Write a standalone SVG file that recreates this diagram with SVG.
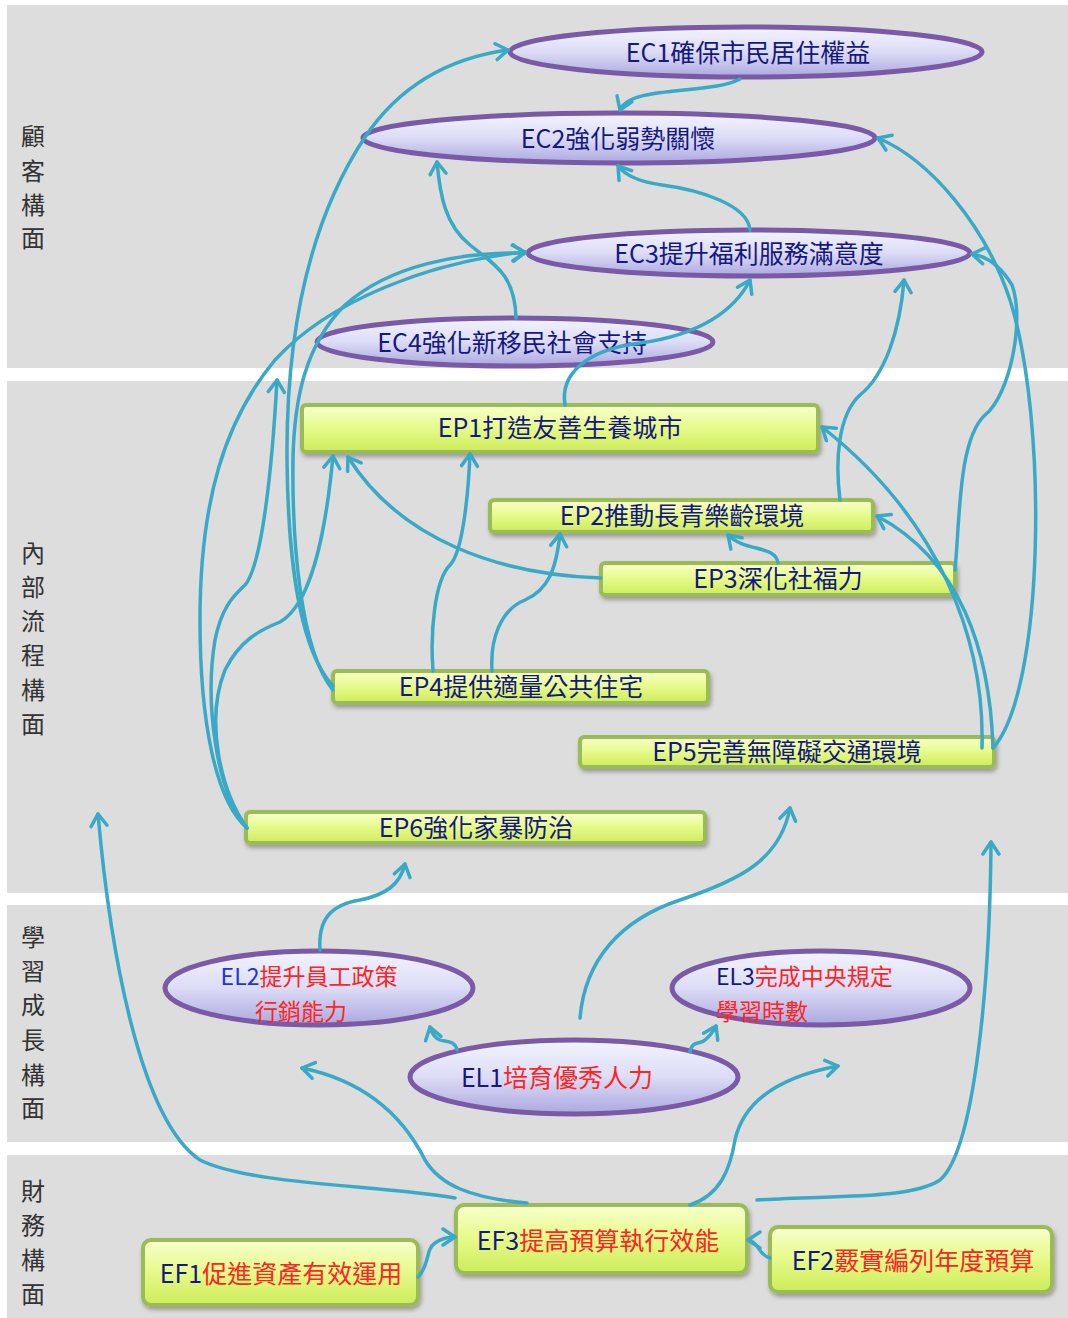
<svg xmlns="http://www.w3.org/2000/svg" width="1068" height="1318" viewBox="0 0 1068 1318">
<style>
.band{fill:#dddddd}
.lbl{font-family:"Noto Sans CJK TC","Noto Sans CJK SC",sans-serif;font-size:24px;fill:#333;text-anchor:middle}
.ell{fill:url(#gE);stroke:#7a5aa6;stroke-width:5}
.box{fill:url(#gR);stroke:#9bbb59;stroke-width:4;filter:url(#sh)}
.t{font-family:"Noto Sans CJK TC","Noto Sans CJK SC",sans-serif;font-size:25px;fill:#16187f;text-anchor:middle}
.t2{font-size:23px}
.r{fill:#ff2424}
.b{fill:#1f33dd}
.c{fill:none;stroke:#3aa9c6;stroke-width:3.5;stroke-linecap:round;marker-end:url(#ar)}
</style>
<defs>
<linearGradient id="gE" x1="0" y1="0" x2="0" y2="1">
<stop offset="0" stop-color="#f3f4fe"/><stop offset="0.5" stop-color="#dcdcf6"/><stop offset="1" stop-color="#aba8df"/>
</linearGradient>
<linearGradient id="gR" x1="0" y1="0" x2="0" y2="1">
<stop offset="0" stop-color="#f7ffcf"/><stop offset="0.45" stop-color="#e8fb8e"/><stop offset="1" stop-color="#cdec58"/>
</linearGradient>
<filter id="sh" x="-5%" y="-20%" width="110%" height="150%">
<feDropShadow dx="1.5" dy="3" stdDeviation="2" flood-color="#000" flood-opacity="0.3"/>
</filter>
<marker id="ar" markerUnits="userSpaceOnUse" markerWidth="24" markerHeight="24" refX="15" refY="10" orient="auto">
<path d="M3,2 L15,10 L3,18" fill="none" stroke="#3aa9c6" stroke-width="3.5" stroke-linecap="round" stroke-linejoin="round"/>
</marker>
</defs>
<rect width="1068" height="1318" fill="#fff"/>
<g id="bands">
<rect class="band" x="7" y="5" width="1061" height="363"/>
<rect class="band" x="7" y="381" width="1061" height="512"/>
<rect class="band" x="7" y="905" width="1061" height="237"/>
<rect class="band" x="7" y="1155" width="1061" height="163"/>
<text class="lbl"><tspan x="33" y="145">顧</tspan><tspan x="33" y="180">客</tspan><tspan x="33" y="214">構</tspan><tspan x="33" y="247">面</tspan></text>
<text class="lbl"><tspan x="33" y="562">內</tspan><tspan x="33" y="596">部</tspan><tspan x="33" y="630">流</tspan><tspan x="33" y="664">程</tspan><tspan x="33" y="699">構</tspan><tspan x="33" y="733">面</tspan></text>
<text class="lbl"><tspan x="33" y="946">學</tspan><tspan x="33" y="980">習</tspan><tspan x="33" y="1014">成</tspan><tspan x="33" y="1049">長</tspan><tspan x="33" y="1084">構</tspan><tspan x="33" y="1117">面</tspan></text>
<text class="lbl"><tspan x="33" y="1200">財</tspan><tspan x="33" y="1234">務</tspan><tspan x="33" y="1269">構</tspan><tspan x="33" y="1303">面</tspan></text>
</g>
<g id="EC1"><ellipse class="ell" cx="746" cy="52" rx="236" ry="25"/><text class="t" x="748" y="62">EC1確保市民居住權益</text></g>
<g id="EC2"><ellipse class="ell" cx="619" cy="138" rx="256" ry="25"/><text class="t" x="618" y="148">EC2強化弱勢關懷</text></g>
<g id="EC3"><ellipse class="ell" cx="749" cy="253" rx="221" ry="23"/><text class="t" x="749" y="263">EC3提升福利服務滿意度</text></g>
<g id="EC4"><ellipse class="ell" cx="515" cy="342" rx="198" ry="24"/><text class="t" x="512" y="352">EC4強化新移民社會支持</text></g>
<g id="EP1"><rect class="box" x="302" y="405" width="516" height="47" rx="4"/><text class="t" x="560" y="437">EP1打造友善生養城市</text></g>
<g id="EP2"><rect class="box" x="490" y="500" width="383" height="32" rx="4"/><text class="t" x="682" y="525">EP2推動長青樂齡環境</text></g>
<g id="EP3"><rect class="box" x="601" y="563" width="354" height="32" rx="4"/><text class="t" x="778" y="588">EP3深化社福力</text></g>
<g id="EP4"><rect class="box" x="333" y="671" width="375" height="32" rx="4"/><text class="t" x="521" y="696">EP4提供適量公共住宅</text></g>
<g id="EP5"><rect class="box" x="580" y="737" width="414" height="30" rx="4"/><text class="t" x="787" y="761">EP5完善無障礙交通環境</text></g>
<g id="EP6"><rect class="box" x="246" y="812" width="459" height="31" rx="4"/><text class="t" x="476" y="837">EP6強化家暴防治</text></g>
<g id="EL2"><ellipse class="ell" cx="319" cy="988" rx="154" ry="37"/><text class="t t2" x="309" y="985"><tspan class="b">EL2</tspan><tspan class="r">提升員工政策</tspan></text><text class="t t2 r" x="301" y="1020">行銷能力</text></g>
<g id="EL3"><ellipse class="ell" cx="821" cy="988" rx="149" ry="37"/><text class="t t2" x="716" y="985" style="text-anchor:start">EL3<tspan class="r">完成中央規定</tspan></text><text class="t t2 r" x="716" y="1020" style="text-anchor:start">學習時數</text></g>
<g id="EL1"><ellipse class="ell" cx="574" cy="1077" rx="164" ry="37"/><text class="t" x="557" y="1087">EL1<tspan class="r">培育優秀人力</tspan></text></g>
<g id="EF3"><rect class="box" x="456" y="1205" width="291" height="68" rx="8"/><text class="t" x="598" y="1250">EF3<tspan class="r">提高預算執行效能</tspan></text></g>
<g id="EF1"><rect class="box" x="143" y="1240" width="275" height="65" rx="8"/><text class="t" x="281" y="1283">EF1<tspan class="r">促進資產有效運用</tspan></text></g>
<g id="EF2"><rect class="box" x="770" y="1227" width="282" height="65" rx="8"/><text class="t" x="913" y="1270">EF2<tspan class="r">覈實編列年度預算</tspan></text></g>
<g id="connectors">
<path class="c" d="M740,79 C710,95 630,85 620,110"/>
<path class="c" d="M333,686 C300,650 288,560 287,460 C286,330 310,220 365,137 C400,85 450,58 508,50"/>
<path class="c" d="M333,690 C300,650 292,540 293,460 C294,400 305,345 345,305 C390,265 460,252 525,253"/>
<path class="c" d="M247,828 C215,800 200,720 200,620 C200,500 225,420 275,360 C330,300 430,262 525,252"/>
<path class="c" d="M247,828 C215,790 205,700 215,640 C222,605 235,595 245,585 C262,565 272,470 277,380"/>
<path class="c" d="M247,828 C220,790 205,720 225,670 C240,640 260,630 280,622 C310,605 325,540 333,456"/>
<path class="c" d="M433,671 C430,630 435,580 450,565 C462,553 468,500 470,454"/>
<path class="c" d="M492,671 C490,640 500,610 525,600 C548,590 556,570 560,534"/>
<path class="c" d="M601,578 C500,575 400,540 348,457"/>
<path class="c" d="M778,563 C776,545 745,552 728,535"/>
<path class="c" d="M565,405 C560,375 585,350 640,343 C700,335 735,310 750,280"/>
<path class="c" d="M516,318 C515,275 495,265 470,245 C445,225 440,195 437,162"/>
<path class="c" d="M750,230 C748,205 700,190 662,185 C640,182 625,175 618,166"/>
<path class="c" d="M840,500 C835,460 838,415 860,395 C885,375 900,330 904,280"/>
<path class="c" d="M982,748 C985,640 940,520 822,427"/>
<path class="c" d="M993,748 C990,650 960,560 877,516"/>
<path class="c" d="M993,748 C1045,690 1048,420 1010,300 C985,225 930,160 878,138"/>
<path class="c" d="M955,570 C960,520 958,440 985,415 C1010,395 1025,320 1012,285 C1000,265 985,256 972,254"/>
<path class="c" d="M320,950 C318,920 330,905 360,900 C385,895 400,885 405,864"/>
<path class="c" d="M580,1018 C585,960 620,920 680,900 C740,880 780,860 790,808"/>
<path class="c" d="M457,1050 C455,1040 445,1042 440,1040 C435,1038 432,1034 430,1027"/>
<path class="c" d="M690,1052 C692,1040 700,1045 705,1040 C710,1036 713,1032 716,1026"/>
<path class="c" d="M527,1203 C470,1198 440,1185 425,1160 C400,1110 360,1080 302,1068"/>
<path class="c" d="M690,1205 C720,1195 730,1170 735,1140 C745,1095 790,1075 838,1066"/>
<path class="c" d="M455,1198 C380,1185 250,1185 200,1160 C140,1120 110,950 98,814"/>
<path class="c" d="M757,1200 C830,1195 910,1200 940,1180 C975,1150 990,980 991,842"/>
<path class="c" d="M418,1277 C430,1265 425,1250 435,1243 C442,1238 448,1237 455,1237"/>
<path class="c" d="M770,1258 C760,1255 760,1248 755,1244 C752,1241 750,1240 748,1240"/>
</g>
</svg>
